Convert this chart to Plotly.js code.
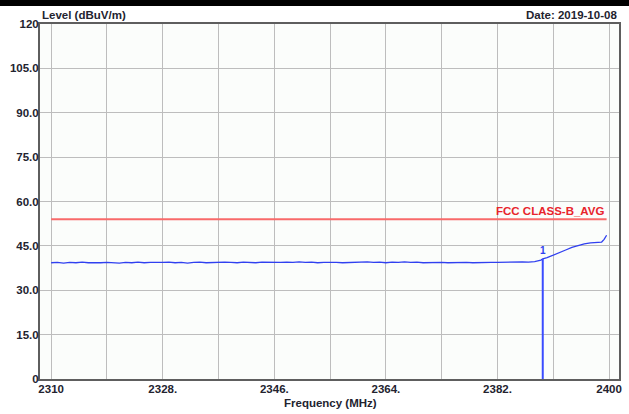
<!DOCTYPE html>
<html>
<head>
<meta charset="utf-8">
<script src="https://cdn.plot.ly/plotly-3.0.1.min.js"></script>
<style>
  html, body { margin: 0; padding: 0; background: #ffffff; }
  #chart { width: 629px; height: 414px; }
</style>
</head>
<body>
<div id="chart"></div>
<script>
// ---- data ----
const freqMHz = [
  2310, 2311, 2312, 2313, 2314, 2315, 2316, 2317, 2318, 2319,
  2320, 2321, 2322, 2323, 2324, 2325, 2326, 2327, 2328, 2329,
  2330, 2331, 2332, 2333, 2334, 2335, 2336, 2337, 2338, 2339,
  2340, 2341, 2342, 2343, 2344, 2345, 2346, 2347, 2348, 2349,
  2350, 2351, 2352, 2353, 2354, 2355, 2356, 2357, 2358, 2359,
  2360, 2361, 2362, 2363, 2364, 2365, 2366, 2367, 2368, 2369,
  2370, 2371, 2372, 2373, 2374, 2375, 2376, 2377, 2378, 2379,
  2380, 2381, 2382, 2383, 2384, 2385, 2386, 2387, 2388, 2389,
  2389.3, 2390, 2391, 2392, 2393, 2394, 2395, 2396, 2397, 2398,
  2398.8, 2399.2, 2399.6
];
const levelDbuV = [
  39.3, 39.4, 39.2, 39.4, 39.3, 39.5, 39.3, 39.2, 39.3, 39.4,
  39.3, 39.2, 39.4, 39.3, 39.5, 39.3, 39.4, 39.3, 39.4, 39.5,
  39.3, 39.4, 39.2, 39.4, 39.5, 39.3, 39.4, 39.3, 39.5, 39.4,
  39.3, 39.5, 39.4, 39.3, 39.5, 39.4, 39.3, 39.4, 39.5, 39.4,
  39.6, 39.4, 39.5, 39.3, 39.4, 39.5, 39.4, 39.3, 39.4, 39.5,
  39.4, 39.6, 39.4, 39.5, 39.3, 39.5, 39.4, 39.6, 39.4, 39.5,
  39.3, 39.4, 39.5, 39.4, 39.3, 39.4, 39.5, 39.4, 39.3, 39.4,
  39.5, 39.4, 39.4, 39.5, 39.4, 39.5, 39.6, 39.5, 39.7, 40.2,
  40.6, 41.0, 41.8, 42.6, 43.6, 44.5, 45.2, 45.7, 46.0, 46.1,
  46.3, 47.2, 48.6
];
const limitName = "FCC CLASS-B_AVG";
const limitLevel = 54;
const markerFreq = 2389.3;
const markerLevel = 40.6;
const markerLabel = "1";
const xTickVals = [2310, 2319, 2328, 2337, 2346, 2355, 2364, 2373, 2382, 2391, 2400];
const xTickText = ["2310", "", "2328.", "", "2346.", "", "2364.", "", "2382.", "", "2400"];
const yTickVals = [0, 15, 30, 45, 60, 75, 90, 105, 120];
const yTickText = ["0", "15.0", "30.0", "45.0", "60.0", "75.0", "90.0", "105.0", "120"];
const yTitle = "Level (dBuV/m)";
const xTitle = "Frequency (MHz)";
const dateText = "Date: 2019-10-08";

const txtFont = { family: "Liberation Sans, Arial, sans-serif", size: 11.5, color: "#23232f" };
const tickFont = { family: "Liberation Sans, Arial, sans-serif", size: 11.5, color: "#23232f", weight: "bold" };

const traces = [
  {
    x: [freqMHz[0], freqMHz[freqMHz.length - 1]],
    y: [limitLevel, limitLevel],
    mode: "lines",
    line: { color: "#f86a6a", width: 2 },
    hoverinfo: "skip"
  },
  {
    x: freqMHz,
    y: levelDbuV,
    mode: "lines",
    line: { color: "#3040f0", width: 1.3 },
    hoverinfo: "skip"
  },
  {
    x: [markerFreq, markerFreq],
    y: [0, markerLevel],
    mode: "lines",
    line: { color: "#3a4cff", width: 2 },
    hoverinfo: "skip"
  }
];

const layout = {
  width: 629,
  height: 414,
  margin: { l: 40, r: 10, t: 24, b: 35 },
  paper_bgcolor: "#ffffff",
  plot_bgcolor: "#fbfdfb",
  showlegend: false,
  xaxis: {
    range: [2308.2, 2401.6],
    tickmode: "array",
    tickvals: xTickVals,
    ticktext: xTickText,
    showgrid: true,
    gridcolor: "#bdbdbd",
    gridwidth: 1,
    zeroline: false,
    showline: true,
    mirror: true,
    linecolor: "#5e5e5e",
    linewidth: 2,
    ticks: "",
    tickfont: tickFont,
    ticklabelstandoff: -2
  },
  yaxis: {
    range: [0, 120],
    tickmode: "array",
    tickvals: yTickVals,
    ticktext: yTickText,
    showgrid: true,
    gridcolor: "#bdbdbd",
    gridwidth: 1,
    zeroline: false,
    showline: true,
    mirror: true,
    linecolor: "#5e5e5e",
    linewidth: 2,
    ticks: "",
    tickfont: tickFont,
    ticklabelstandoff: -3
  },
  shapes: [
    {
      type: "rect", xref: "paper", yref: "paper",
      x0: -0.1, x1: 1.1, y0: 1 + 18 / 355, y1: 1 + 30 / 355,
      fillcolor: "#000000", line: { width: 0 }, layer: "above"
    }
  ],
  annotations: [
    {
      text: "<b>" + yTitle + "</b>", xref: "paper", yref: "paper",
      x: 0, y: 1 + 9 / 355, xanchor: "left", yanchor: "middle",
      showarrow: false, font: txtFont
    },
    {
      text: "<b>" + dateText + "</b>", xref: "paper", yref: "paper",
      x: 1, y: 1 + 9 / 355, xanchor: "right", yanchor: "middle",
      showarrow: false, font: txtFont
    },
    {
      text: "<b>" + xTitle + "</b>", xref: "paper", yref: "paper",
      x: (330 - 40) / 579, y: -24 / 355, xanchor: "center", yanchor: "middle",
      showarrow: false, font: txtFont
    },
    {
      text: "<b>" + limitName + "</b>", xref: "x", yref: "y",
      x: 2399.5, y: limitLevel, xanchor: "right", yanchor: "bottom", yshift: 0,
      showarrow: false, font: { family: "Liberation Sans, Arial, sans-serif", size: 11.5, color: "#e8242c" }
    },
    {
      text: "<b>" + markerLabel + "</b>", xref: "x", yref: "y",
      x: markerFreq, y: markerLevel, xanchor: "center", yanchor: "bottom", yshift: 1,
      showarrow: false, font: { family: "Liberation Sans, Arial, sans-serif", size: 10, color: "#3040f0" }
    }
  ]
};

Plotly.newPlot("chart", traces, layout, { staticPlot: true, displayModeBar: false });
</script>
</body>
</html>
